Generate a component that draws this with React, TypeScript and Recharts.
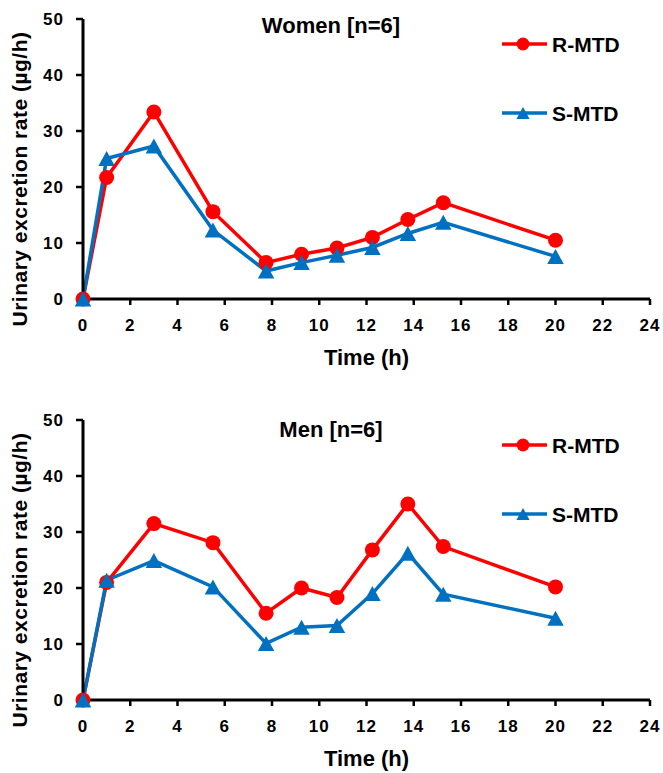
import { LineChart, Line, XAxis, YAxis, Legend, Label } from 'recharts'

// sampling times (h)
const times = [0, 1, 3, 5.5, 7.75, 9.25, 10.75, 12.25, 13.75, 15.25, 20]

// urinary excretion rate (µg/h)
const womenR = [0, 21.7, 33.4, 15.6, 6.5, 8.0, 9.1, 11.0, 14.2, 17.2, 10.5]
const womenS = [0, 25.1, 27.3, 12.3, 5.0, 6.5, 7.8, 9.2, 11.7, 13.7, 7.6]
const menR = [0, 21.0, 31.5, 28.1, 15.5, 20.0, 18.3, 26.8, 35.0, 27.4, 20.2]
const menS = [0, 21.4, 24.9, 20.2, 10.1, 13.0, 13.3, 19.0, 26.2, 18.9, 14.6]

const xTicks = [0, 2, 4, 6, 8, 10, 12, 14, 16, 18, 20, 22, 24]
const yTicks = [0, 10, 20, 30, 40, 50]

const RED = '#FF0000'
const BLUE = '#0070C0'
const FONT = '"Liberation Sans", Arial, sans-serif'

const W = 663
const PLOT_TOP = 19

const triPath = (cx: number, cy: number, h: number) =>
  `M${cx},${cy - h} L${cx + h * 1.1},${cy + h} L${cx - h * 1.1},${cy + h} Z`

const TriangleDot = (props: any) => {
  const { cx, cy, index } = props
  if (cx == null || cy == null) return null
  return <path key={`tri-${index}`} d={triPath(cx, cy, 7.5)} fill={BLUE} />
}

const renderLegend = (props: any) => {
  const payload = props.payload || []
  return (
    <svg width={150} height={110}>
      {payload.map((e: any, i: number) => {
        const y = 16 + i * 69
        return (
          <g key={e.value}>
            <line x1={2} x2={47} y1={y} y2={y} stroke={e.color} strokeWidth={3.5} />
            {e.dataKey === 'r'
              ? <circle cx={23} cy={y} r={6.5} fill={e.color} />
              : <path d={triPath(23, y, 6)} fill={e.color} />}
            <text x={52} y={y + 7.5} fontFamily={FONT} fontWeight={700} fontSize={21} fill='#000'>
              {e.value}
            </text>
          </g>
        )
      })}
    </svg>
  )
}

function Panel ({ title, r, s, top, height, titleTop }: any) {
  const rows = times.map((t, i) => ({ t, r: r[i], s: s[i] }))
  const xAxisHeight = height - PLOT_TOP - 280
  const plotBottom = height - xAxisHeight
  return (
    <div style={{ position: 'absolute', left: 0, top, width: W, height }}>
      <LineChart width={W} height={height} data={rows} margin={{ top: PLOT_TOP, right: 13, bottom: 0, left: 0 }}>
        <XAxis
          dataKey='t'
          type='number'
          domain={[0, 24]}
          ticks={xTicks}
          interval={0}
          height={xAxisHeight}
          tickSize={6}
          tickMargin={14}
          axisLine={{ stroke: '#000', strokeWidth: 3 }}
          tickLine={{ stroke: '#000', strokeWidth: 2.5 }}
          tick={{ fill: '#000', fontSize: 17, fontWeight: 700, fontFamily: FONT, letterSpacing: 1 }}
        >
          <Label
            content={() => (
              <text x={366.5} y={plotBottom + 66} textAnchor='middle' fontFamily={FONT} fontWeight={700} fontSize={22} fill='#000'>
                Time (h)
              </text>
            )}
          />
        </XAxis>
        <YAxis
          type='number'
          domain={[0, 50]}
          ticks={yTicks}
          interval={0}
          width={83}
          tickSize={7}
          tickMargin={12}
          axisLine={{ stroke: '#000', strokeWidth: 3 }}
          tickLine={{ stroke: '#000', strokeWidth: 2.5 }}
          tick={{ fill: '#000', fontSize: 17, fontWeight: 700, fontFamily: FONT, letterSpacing: 1 }}
        >
          <Label
            content={() => {
              const bx = 27
              const cy = PLOT_TOP + 140 + 20
              return (
                <text
                  x={bx}
                  y={cy}
                  transform={`rotate(-90 ${bx} ${cy})`}
                  textAnchor='middle'
                  fontFamily={FONT}
                  fontWeight={700}
                  fontSize={21}
                  letterSpacing={0.5}
                  fill='#000'
                >
                  Urinary excretion rate (µg/h)
                </text>
              )
            }}
          />
        </YAxis>
        <Legend
          layout='horizontal'
          verticalAlign='middle'
          align='center'
          content={renderLegend}
          wrapperStyle={{ left: 500, top: 28, width: 150 }}
        />
        <Line
          dataKey='r'
          name='R-MTD'
          stroke={RED}
          strokeWidth={3.5}
          dot={{ r: 7.5, fill: RED, stroke: RED, strokeWidth: 0 }}
          activeDot={false}
          isAnimationActive={false}
        />
        <Line
          dataKey='s'
          name='S-MTD'
          stroke={BLUE}
          strokeWidth={3.5}
          dot={TriangleDot}
          activeDot={false}
          isAnimationActive={false}
        />
      </LineChart>
      <div
        style={{
          position: 'absolute',
          left: 331,
          top: titleTop,
          transform: 'translateX(-50%)',
          fontFamily: FONT,
          fontWeight: 700,
          fontSize: 22,
          lineHeight: '22px',
          whiteSpace: 'nowrap'
        }}
      >
        {title}
      </div>
    </div>
  )
}

export default function App () {
  return (
    <div style={{ position: 'absolute', left: 0, top: 0, width: W, height: 773, background: '#fff' }}>
      <Panel title='Women [n=6]' r={womenR} s={womenS} top={0} height={380} titleTop={15} />
      <Panel title='Men [n=6]' r={menR} s={menS} top={401} height={372} titleTop={18} />
    </div>
  )
}
